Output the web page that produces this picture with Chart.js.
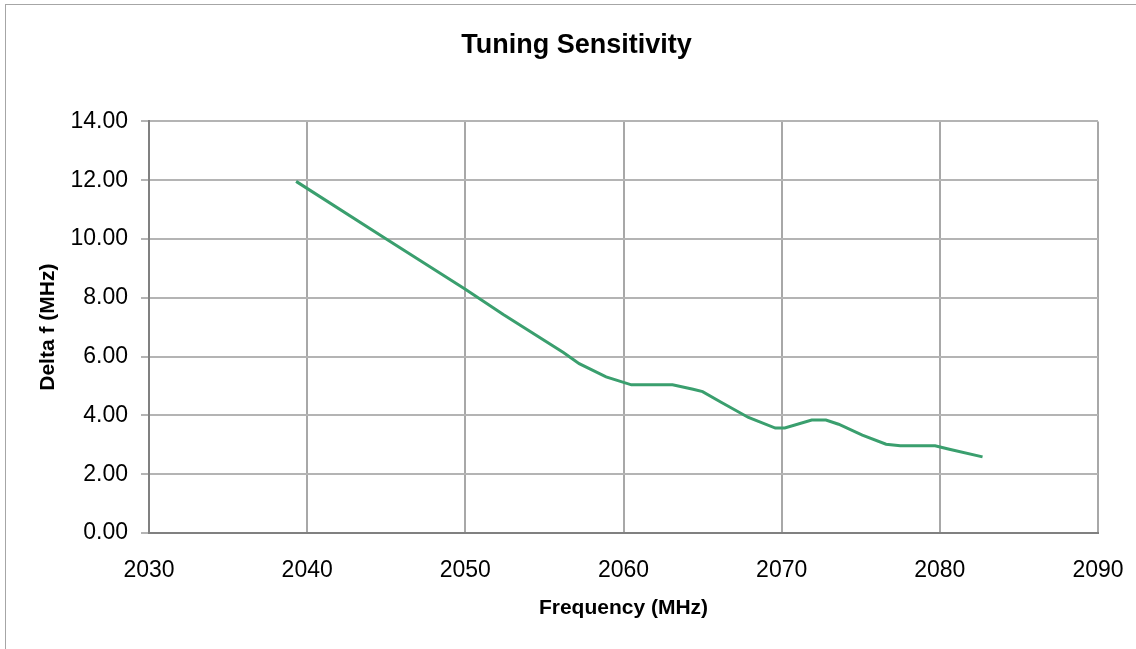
<!DOCTYPE html>
<html>
<head>
<meta charset="utf-8">
<script src="https://cdn.jsdelivr.net/npm/chart.js@4/dist/chart.umd.min.js"></script>
<style>
    html, body { margin: 0; padding: 0; background: #fff; }
    #wrap { position: relative; width: 1136px; height: 649px; }
    #frame {
        position: absolute; left: 5px; top: 4px; right: 0; bottom: 0;
        border-top: 1px solid #a6a6a6; border-left: 1px solid #a6a6a6;
        pointer-events: none;
    }
</style>
</head>
<body>
<div id="wrap">
    <canvas id="sensChart"></canvas>
    <div id="frame"></div>
</div>
<script>
// Frequency (MHz) and Delta f (MHz)
const frequency = [2039.3, 2044.8, 2050.0, 2052.4, 2056.2, 2057.2, 2058.9, 2060.5, 2063.1, 2064.4,
    2065.0, 2066.2, 2067.9, 2069.6, 2070.2, 2071.9, 2072.8, 2073.6, 2075.1, 2076.6,
    2077.5, 2079.7, 2080.6, 2082.7];
const deltaF = [11.96, 10.07, 8.29, 7.43, 6.14, 5.76, 5.31, 5.04, 5.04, 4.89,
    4.81, 4.44, 3.93, 3.57, 3.57, 3.84, 3.84, 3.70, 3.33, 3.02,
    2.97, 2.97, 2.85, 2.59];

const xTicks = [2030, 2040, 2050, 2060, 2070, 2080, 2090];
const yTicks = [0, 2, 4, 6, 8, 10, 12, 14];

const fontFamily = '"Liberation Sans", Arial, sans-serif';

const ctx = document.getElementById('sensChart').getContext('2d');

const chart = new Chart(ctx, {
    type: 'line',
    data: {
        datasets: [{
            label: 'Delta f',
            data: frequency.map((f, i) => ({ x: f, y: deltaF[i] })),
            borderColor: '#3a9f6e',
            borderWidth: 3,
            pointRadius: 0,
            tension: 0,
            fill: false
        }]
    },
    options: {
        responsive: true,
        maintainAspectRatio: false,
        animation: false,
        layout: {
            // left padding pushes the title centre right, like the original
            padding: { left: 55, right: 38, top: 0, bottom: 0 }
        },
        plugins: {
            legend: { display: false },
            tooltip: { enabled: false },
            title: {
                display: true,
                text: 'Tuning Sensitivity',
                color: '#000',
                font: { family: fontFamily, size: 27, weight: 'bold' },
                padding: { top: 29, bottom: 60 }
            }
        },
        scales: {
            x: {
                type: 'linear',
                min: 2030,
                max: 2090,
                afterBuildTicks: axis => { axis.ticks = xTicks.map(v => ({ value: v })); },
                afterFit: axis => {
                    axis.height = 649 - 533;
                    // labels fit inside the layout padding already
                    axis.paddingLeft = 0;
                    axis.paddingRight = 0;
                },
                ticks: {
                    color: '#000',
                    font: { family: fontFamily, size: 23 },
                    padding: 24,
                    maxRotation: 0,
                    callback: v => String(v)
                },
                grid: {
                    color: '#a8a8a8',
                    lineWidth: 2,
                    drawTicks: false
                },
                border: { color: '#808080', width: 2 },
                title: {
                    display: true,
                    text: 'Frequency (MHz)',
                    color: '#000',
                    font: { family: fontFamily, size: 21, weight: 'bold' },
                    padding: { top: 0, bottom: 28 }
                }
            },
            y: {
                min: 0,
                max: 14,
                afterBuildTicks: axis => { axis.ticks = yTicks.map(v => ({ value: v })); },
                afterFit: axis => { axis.width = 149 - 55; },
                ticks: {
                    color: '#000',
                    font: { family: fontFamily, size: 23 },
                    padding: 13,
                    callback: v => v.toFixed(2)
                },
                grid: {
                    color: '#b4b4b4',
                    lineWidth: 2,
                    drawTicks: true,
                    tickLength: 8
                },
                border: { color: '#808080', width: 2 },
                title: {
                    display: true,
                    text: 'Delta f (MHz)',
                    color: '#000',
                    font: { family: fontFamily, size: 21, weight: 'bold' },
                    padding: { top: -19, bottom: 0 }
                }
            }
        }
    }
});
</script>
</body>
</html>
